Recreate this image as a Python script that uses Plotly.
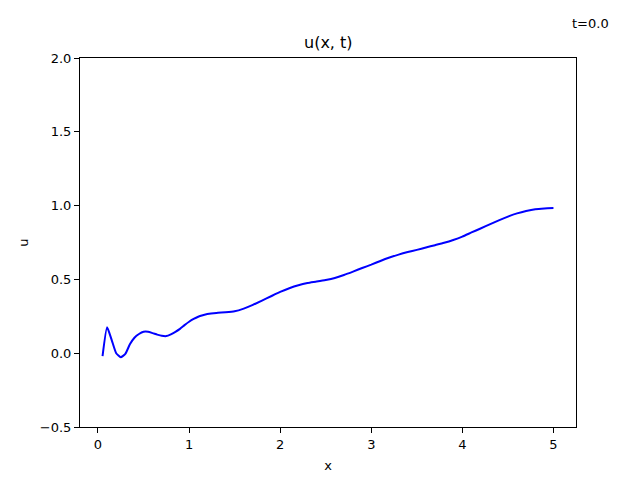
import plotly.graph_objects as go

x_vals = [0.05,0.10,0.15,0.20,0.25,0.30,0.35,0.40,0.45,0.50,0.55,0.60,0.65,0.70,0.75,0.80,0.85,0.90,0.95,1.00,
          1.05,1.10,1.15,1.20,1.30,1.40,1.50,1.60,1.70,1.80,1.90,2.00,2.10,2.20,2.30,2.40,2.50,2.60,2.70,2.80,
          2.90,3.00,3.10,3.20,3.30,3.40,3.50,3.60,3.70,3.80,3.90,4.00,4.10,4.20,4.30,4.40,4.50,4.60,4.70,4.80,
          4.90,5.00]
u_vals = [-0.02,0.175,0.09,0.0,-0.027,-0.005,0.06,0.105,0.13,0.145,0.145,0.136,0.126,0.118,0.116,0.128,0.145,0.165,0.19,0.213,
          0.232,0.247,0.257,0.265,0.273,0.277,0.284,0.302,0.327,0.356,0.386,0.415,0.44,0.46,0.475,0.485,0.496,0.51,0.53,0.553,
          0.577,0.60,0.625,0.648,0.668,0.685,0.700,0.716,0.732,0.748,0.767,0.790,0.818,0.845,0.873,0.900,0.925,0.947,0.964,0.976,
          0.981,0.983]

x_ticks = [0, 1, 2, 3, 4, 5]
y_ticks = [-0.5, 0.0, 0.5, 1.0, 1.5, 2.0]
y_tick_text = ["\u22120.5", "0.0", "0.5", "1.0", "1.5", "2.0"]

title_text = "u(x, t)"
time_text = "t=0.0"

font = "DejaVu Sans"

fig = go.Figure()
fig.add_trace(go.Scatter(x=x_vals, y=u_vals, mode="lines",
                         line=dict(color="#0000ff", width=2, shape="spline", smoothing=0.5),
                         showlegend=False))

axis_common = dict(showline=True, linecolor="black", linewidth=1, mirror=True,
                   ticks="outside", ticklen=5, tickwidth=1, tickcolor="black",
                   showgrid=False, zeroline=False, automargin=False,
                   tickfont=dict(family=font, size=13, color="black"))

fig.update_layout(
    width=632, height=472,
    margin=dict(l=72, r=64, t=50, b=53),
    paper_bgcolor="white", plot_bgcolor="white",
    font=dict(family=font, color="black"),
    xaxis=dict(range=[-0.1975, 5.2475], tickvals=x_ticks,
               title=dict(text="x", font=dict(family=font, size=13), standoff=10),
               **axis_common),
    yaxis=dict(range=[-0.5, 2.0], tickvals=y_ticks, ticktext=y_tick_text,
               title=dict(text="u", font=dict(family=font, size=13), standoff=8),
               **axis_common),
    annotations=[
        dict(text=title_text, xref="paper", yref="paper",
             x=0.5, y=(480 - 43 - 53) / 369,
             xanchor="center", yanchor="middle", showarrow=False,
             font=dict(family=font, size=16, color="black")),
        dict(text=time_text, xref="paper", yref="paper",
             x=(590 - 80) / 496, y=(480 - 23 - 53) / 369,
             xanchor="center", yanchor="middle", showarrow=False,
             font=dict(family=font, size=13, color="black")),
    ],
)

fig.write_html("out.html")
